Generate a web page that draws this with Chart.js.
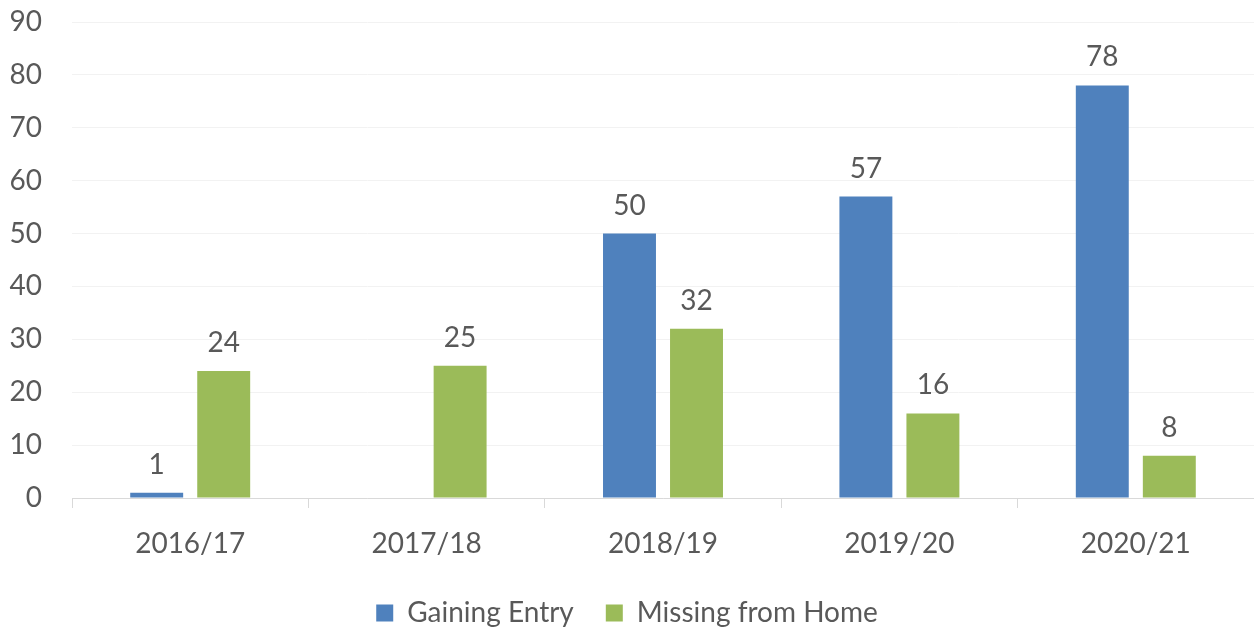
<!DOCTYPE html>
<html>
<head>
<meta charset="utf-8">
<script src="https://cdn.jsdelivr.net/npm/chart.js@4.4.0/dist/chart.umd.min.js"></script>
<style>
  html, body { margin: 0; padding: 0; background: #fff; }
  #wrap { width: 1254px; height: 630px; position: relative; }
</style>
</head>
<body>
<div id="wrap"><canvas id="barChart"></canvas></div>
<script>
// Chart data
const years = ['2016/17', '2017/18', '2018/19', '2019/20', '2020/21'];
const gainingEntry = [1, null, 50, 57, 78];
const missingFromHome = [24, 25, 32, 16, 8];
const yTicks = [0, 10, 20, 30, 40, 50, 60, 70, 80, 90];

const TEXT = '#595959';
const FONT = 'Lato, "Open Sans", sans-serif';

// simple value labels above each bar (no datalabels plugin available)
const barLabels = {
    id: 'barLabels',
    afterDatasetsDraw(chart) {
        const ctx = chart.ctx;
        ctx.save();
        ctx.fillStyle = TEXT;
        ctx.font = '28px ' + FONT;
        ctx.textAlign = 'center';
        ctx.textBaseline = 'bottom';
        chart.data.datasets.forEach((ds, i) => {
            const meta = chart.getDatasetMeta(i);
            meta.data.forEach((bar, j) => {
                const v = ds.data[j];
                if (v === null || v === undefined) return;
                ctx.fillText(String(v), bar.x, bar.y - 14);
            });
        });
        ctx.restore();
    }
};

const ctx = document.getElementById('barChart');

new Chart(ctx, {
    type: 'bar',
    data: {
        labels: years,
        datasets: [{
            label: 'Gaining Entry',
            data: gainingEntry,
            backgroundColor: '#4F81BD',
            borderWidth: 0
        }, {
            label: 'Missing from Home',
            data: missingFromHome,
            backgroundColor: '#9BBB59',
            borderWidth: 0
        }]
    },
    options: {
        responsive: true,
        maintainAspectRatio: false,
        animation: false,
        categoryPercentage: 0.567,
        barPercentage: 0.79,
        layout: {
            padding: { top: 22, right: 0, bottom: 0, left: 0 }
        },
        plugins: {
            legend: {
                position: 'bottom',
                maxHeight: 63,
                labels: {
                    color: TEXT,
                    font: { family: FONT, size: 28 },
                    boxWidth: 17,
                    boxHeight: 17,
                    padding: 32
                }
            },
            tooltip: { enabled: false }
        },
        scales: {
            x: {
                afterFit(scale) { scale.height = 69; },
                grid: {
                    offset: true,
                    drawOnChartArea: false,
                    drawTicks: true,
                    tickLength: 10,
                    color: '#D9D9D9'
                },
                border: { color: '#D9D9D9' },
                ticks: {
                    color: TEXT,
                    font: { family: FONT, size: 28 },
                    padding: 19
                }
            },
            y: {
                min: 0,
                max: 90,
                afterFit(scale) {
                    scale.width = 72;
                    scale.paddingTop = 0;
                    scale.paddingBottom = 0;
                },
                afterBuildTicks(scale) {
                    scale.ticks = yTicks.map(v => ({ value: v }));
                },
                border: { display: false },
                grid: {
                    color: '#F2F2F2',
                    drawTicks: false
                },
                ticks: {
                    color: TEXT,
                    font: { family: FONT, size: 28 },
                    padding: 30
                }
            }
        }
    },
    plugins: [barLabels]
});
</script>
</body>
</html>
